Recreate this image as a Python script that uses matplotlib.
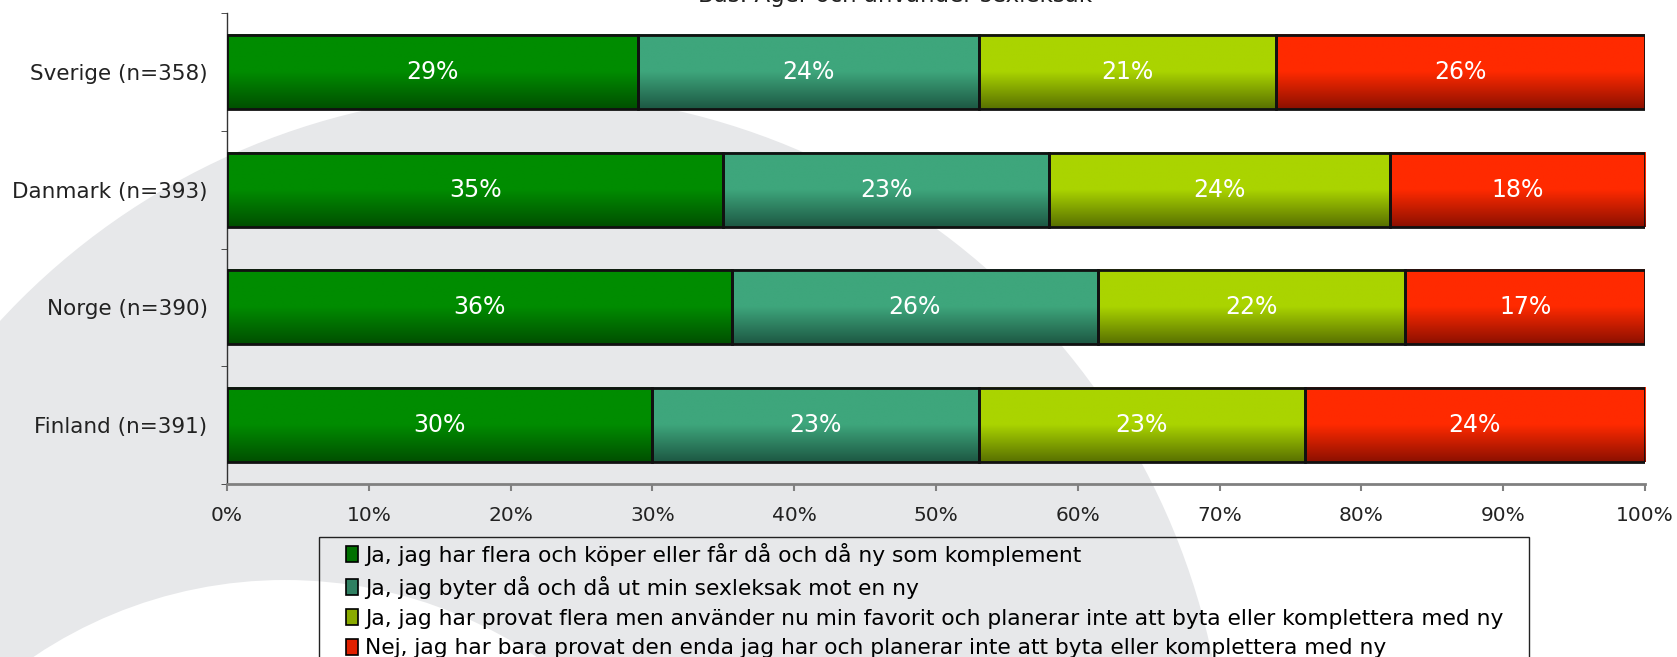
import numpy as np
import matplotlib
matplotlib.use("Agg")
import matplotlib.pyplot as plt
from matplotlib.colors import LinearSegmentedColormap
from matplotlib.patches import Circle, Patch, Rectangle

# data
countries = ["Sverige (n=358)", "Danmark (n=393)", "Norge (n=390)", "Finland (n=391)"]
svar = [
    "Ja, jag har flera och köper eller får då och då ny som komplement",
    "Ja, jag byter då och då ut min sexleksak mot en ny",
    "Ja, jag har provat flera men använder nu min favorit och planerar inte att byta eller komplettera med ny",
    "Nej, jag har bara provat den enda jag har och planerar inte att byta eller komplettera med ny",
]
komplement = [29, 35, 35.6, 30]
byter = [24, 23, 25.8, 23]
favorit = [21, 24, 21.7, 23]
nej = [26, 18, 16.9, 24]
x_ticks = [0, 10, 20, 30, 40, 50, 60, 70, 80, 90, 100]
titel = "Bas: Äger och använder sexleksak"

# gradient top -> bottom for each series
farger = [
    ("#008c00", "#004f00"),
    ("#3ea67c", "#1d5843"),
    ("#aad400", "#587000"),
    ("#ff2a00", "#8c1000"),
]
legend_farg = ["#007000", "#2f8062", "#8aab00", "#e02000"]

W, H = 1677, 657
fig = plt.figure(figsize=(W / 100, H / 100), dpi=100)

# watermark in the background (pixel coords)
bg = fig.add_axes([0, 0, 1, 1], zorder=0)
bg.set_xlim(0, W)
bg.set_ylim(H, 0)
bg.axis("off")
bg.add_patch(Circle((520, 800), 707, color="#e7e8ea", lw=0))
bg.add_patch(Circle((285, 1030), 450, color="white", lw=0))
# legend box
bg.add_patch(Rectangle((319, 537), 1210, 200, facecolor="none", edgecolor="#222222", lw=1))

ax = fig.add_axes([227 / W, 1 - 484 / H, (1645 - 227) / W, (484 - 13) / H], zorder=1)
ax.patch.set_alpha(0)

serier = [komplement, byter, favorit, nej]
bar_h = 0.63
for j, serie in enumerate(serier):
    cmap = LinearSegmentedColormap.from_list("g%d" % j, [farger[j][0], farger[j][0], farger[j][1]], N=256)
    grad = np.linspace(0, 1, 128).reshape(-1, 1)
    for i, v in enumerate(serie):
        left = sum(s[i] for s in serier[:j])
        y0 = i - bar_h / 2
        ax.imshow(grad, extent=[left, left + v, i + bar_h / 2, y0], origin="upper",
                  cmap=cmap, aspect="auto", interpolation="bilinear", zorder=2)
        ax.barh(i, v, left=left, height=bar_h, facecolor="none",
                edgecolor="#111111", linewidth=2, zorder=3)
        ax.text(left + v / 2, i, "%d%%" % round(v), color="white", ha="center",
                va="center", fontsize=17, zorder=4)

ax.set_xlim(0, 100)
ax.set_ylim(3.5, -0.5)
ax.set_xticks(x_ticks)
ax.set_xticklabels(["%d%%" % t for t in x_ticks], fontsize=14.5, color="#222222")
ax.set_yticks(range(len(countries)))
ax.set_yticklabels(countries, fontsize=15.5, color="#222222")
ax.set_yticks(np.arange(-0.5, 3.6, 1), minor=True)
ax.tick_params(axis="y", which="major", length=0, pad=14)
ax.tick_params(axis="y", which="minor", length=4, color="#333333", direction="out")
ax.tick_params(axis="x", length=5, color="#808080", width=1.5, pad=11)

for s in ["top", "right"]:
    ax.spines[s].set_visible(False)
ax.spines["left"].set_color("#333333")
ax.spines["left"].set_linewidth(1)
ax.spines["bottom"].set_color("#808080")
ax.spines["bottom"].set_linewidth(2)

fig.text(895 / W, 1 - 2 / H, titel, ha="center", va="baseline", fontsize=16.5, color="#222222")

handles = [Patch(facecolor=c, edgecolor="black", linewidth=1.2) for c in legend_farg]
leg = fig.legend(handles, svar, loc="upper left",
                 bbox_to_anchor=(346 / W, 1 - 543 / H),
                 borderaxespad=0, borderpad=0, fontsize=15.7, frameon=False,
                 handlelength=0.56, handleheight=0.75,
                 handletextpad=0.3, labelspacing=0.45)

fig.savefig("out.png", dpi=100)
